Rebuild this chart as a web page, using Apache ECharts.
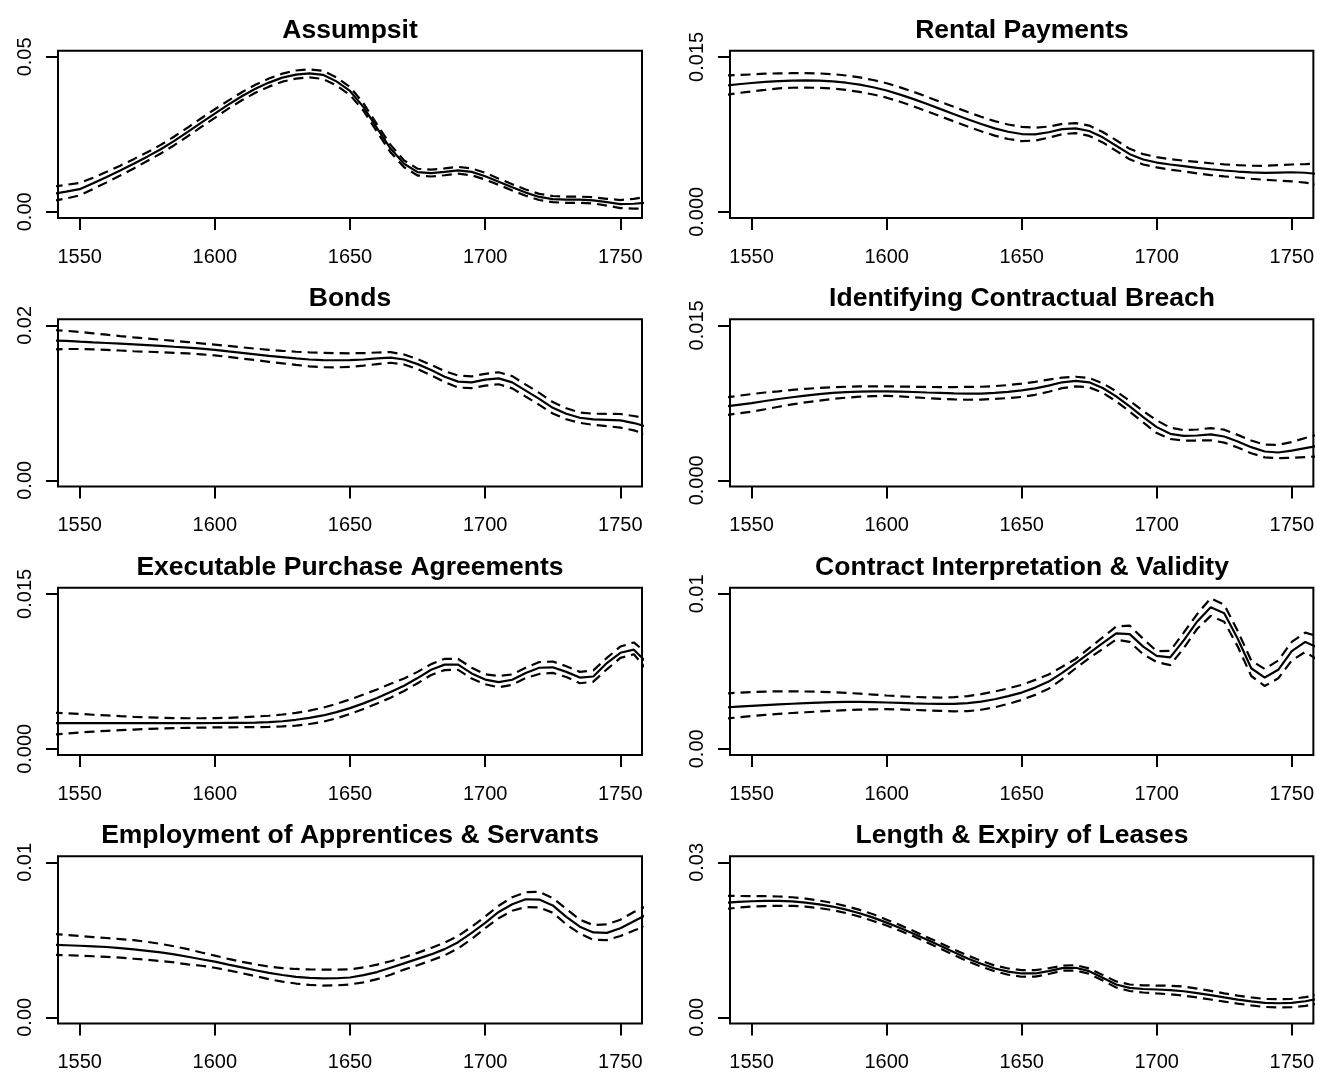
<!DOCTYPE html>
<html>
<head>
<meta charset="utf-8">
<script src="https://cdn.jsdelivr.net/npm/echarts@6/dist/echarts.min.js"></script>
<style>
html,body{margin:0;padding:0;background:#fff;}
#chart{width:1317px;height:1074px;}
</style>
</head>
<body>
<div id="chart"></div>
<script>
// ---------- DATA ----------
const years = [1540,1545,1550,1555,1560,1565,1570,1575,1580,1585,1590,1595,1600,1605,1610,1615,1620,1625,1630,1635,1640,1645,1650,1655,1660,1665,1670,1675,1680,1685,1690,1695,1700,1705,1710,1715,1720,1725,1730,1735,1740,1745,1750,1755,1760];
const xTicks = [1550,1600,1650,1700,1750];

const titles = ['Assumpsit','Rental Payments','Bonds','Identifying Contractual Breach','Executable Purchase Agreements','Contract Interpretation & Validity','Employment of Apprentices & Servants','Length & Expiry of Leases'];
const yTickLabels = [['0.00','0.05'],['0.000','0.015'],['0.00','0.02'],['0.000','0.015'],['0.000','0.015'],['0.00','0.01'],['0.00','0.01'],['0.00','0.03']];

const assumpsitMean  = [.0058,.0065,.0073,.0092,.0112,.0133,.0155,.0178,.0202,.0229,.0258,.0288,.0317,.0346,.0373,.0397,.0417,.0433,.0443,.0447,.0442,.0421,.0390,.0338,.0270,.0204,.0155,.0128,.0125,.0129,.0134,.0129,.0115,.0097,.0079,.0062,.0048,.0041,.0039,.0039,.0037,.0031,.0025,.0026,.0030];
const assumpsitUpper = [.0081,.0087,.0093,.0110,.0129,.0149,.0170,.0192,.0216,.0243,.0272,.0302,.0331,.0359,.0386,.0410,.0430,.0446,.0456,.0460,.0455,.0434,.0403,.0350,.0282,.0216,.0166,.0139,.0136,.0140,.0145,.0140,.0126,.0107,.0089,.0072,.0058,.0051,.0049,.0049,.0047,.0042,.0038,.0042,.0049];
const assumpsitLower = [.0035,.0043,.0053,.0074,.0095,.0117,.0140,.0164,.0188,.0215,.0244,.0274,.0303,.0333,.0360,.0384,.0404,.0420,.0430,.0434,.0429,.0408,.0377,.0326,.0258,.0192,.0144,.0117,.0114,.0118,.0123,.0118,.0104,.0087,.0069,.0052,.0038,.0031,.0029,.0029,.0027,.0020,.0012,.0010,.0011];

const rentalMean  = [.01220,.01235,.01247,.01258,.01266,.01271,.01273,.01270,.01263,.01250,.01231,.01206,.01175,.01135,.01091,.01043,.00994,.00945,.00896,.00850,.00808,.00775,.00753,.00750,.00770,.00800,.00808,.00782,.00721,.00640,.00558,.00506,.00477,.00458,.00442,.00426,.00412,.00400,.00390,.00382,.00377,.00380,.00383,.00378,.00365];
const rentalUpper = [.01320,.01325,.01330,.01338,.01340,.01342,.01343,.01340,.01333,.01320,.01301,.01276,.01245,.01205,.01161,.01113,.01064,.01015,.00966,.00920,.00878,.00845,.00823,.00815,.00825,.00852,.00858,.00835,.00773,.00693,.00610,.00558,.00530,.00510,.00495,.00483,.00470,.00460,.00452,.00446,.00445,.00452,.00458,.00462,.00470];
const rentalLower = [.01130,.01150,.01165,.01180,.01196,.01201,.01203,.01200,.01193,.01180,.01161,.01136,.01105,.01065,.01021,.00973,.00924,.00875,.00826,.00780,.00738,.00705,.00685,.00690,.00718,.00752,.00762,.00735,.00672,.00590,.00508,.00458,.00430,.00408,.00392,.00372,.00356,.00343,.00332,.00320,.00310,.00302,.00295,.00282,.00262];

const bondsMean  = [.01805,.01800,.01790,.01781,.01773,.01765,.01756,.01746,.01735,.01724,.01714,.01699,.01684,.01664,.01645,.01626,.01607,.01590,.01573,.01560,.01551,.01550,.01551,.01560,.01573,.01585,.01560,.01500,.01423,.01338,.01274,.01265,.01299,.01316,.01265,.01158,.01051,.00936,.00859,.00808,.00786,.00780,.00774,.00739,.00690];
const bondsUpper = [.01940,.01930,.01915,.01898,.01880,.01862,.01845,.01830,.01815,.01800,.01785,.01768,.01752,.01735,.01717,.01700,.01685,.01672,.01660,.01652,.01645,.01641,.01640,.01642,.01650,.01655,.01625,.01565,.01490,.01410,.01352,.01342,.01375,.01395,.01345,.01236,.01128,.01010,.00930,.00875,.00860,.00858,.00856,.00830,.00795];
const bondsLower = [.01690,.01695,.01695,.01690,.01684,.01676,.01666,.01660,.01654,.01646,.01638,.01627,.01612,.01593,.01572,.01552,.01530,.01510,.01490,.01472,.01460,.01458,.01464,.01480,.01500,.01518,.01495,.01436,.01356,.01268,.01197,.01190,.01222,.01240,.01187,.01080,.00974,.00862,.00788,.00742,.00715,.00700,.00680,.00645,.00590];

const breachMean  = [.00714,.00731,.00748,.00768,.00787,.00804,.00820,.00834,.00846,.00853,.00859,.00861,.00862,.00859,.00855,.00850,.00846,.00842,.00839,.00840,.00846,.00856,.00871,.00890,.00917,.00949,.00962,.00949,.00894,.00813,.00716,.00612,.00515,.00450,.00431,.00434,.00444,.00424,.00376,.00321,.00279,.00269,.00288,.00312,.00335];
const breachUpper = [.00800,.00818,.00835,.00850,.00862,.00875,.00886,.00895,.00902,.00906,.00909,.00910,.00910,.00908,.00906,.00904,.00903,.00903,.00904,.00906,.00912,.00922,.00936,.00953,.00975,.00995,.01003,.00990,.00940,.00862,.00770,.00670,.00580,.00510,.00485,.00492,.00505,.00490,.00440,.00385,.00345,.00343,.00370,.00410,.00445];
const breachLower = [.00628,.00648,.00665,.00688,.00712,.00735,.00755,.00772,.00788,.00800,.00810,.00815,.00818,.00812,.00804,.00796,.00789,.00783,.00780,.00782,.00789,.00796,.00807,.00828,.00857,.00892,.00910,.00900,.00848,.00765,.00665,.00560,.00457,.00400,.00385,.00385,.00388,.00365,.00318,.00262,.00222,.00214,.00218,.00225,.00232];

const purchaseMean  = [.00249,.00249,.00249,.00249,.00249,.00249,.00249,.00249,.00249,.00249,.00249,.00249,.00250,.00251,.00252,.00254,.00258,.00267,.00281,.00299,.00323,.00355,.00394,.00440,.00491,.00550,.00611,.00685,.00766,.00815,.00815,.00730,.00670,.00645,.00669,.00734,.00785,.00789,.00745,.00690,.00700,.00830,.00930,.00960,.00830];
const purchaseUpper = [.00350,.00345,.00338,.00330,.00323,.00316,.00310,.00305,.00301,.00298,.00296,.00296,.00297,.00300,.00305,.00312,.00320,.00332,.00348,.00370,.00398,.00435,.00478,.00525,.00575,.00630,.00680,.00745,.00820,.00872,.00870,.00785,.00722,.00705,.00720,.00785,.00840,.00845,.00800,.00745,.00760,.00880,.00990,.01030,.00920];
const purchaseLower = [.00138,.00148,.00158,.00166,.00174,.00180,.00186,.00192,.00197,.00200,.00203,.00205,.00207,.00208,.00209,.00210,.00212,.00217,.00225,.00240,.00262,.00295,.00338,.00385,.00438,.00495,.00560,.00635,.00715,.00762,.00765,.00680,.00625,.00595,.00620,.00685,.00725,.00735,.00695,.00635,.00650,.00770,.00880,.00915,.00760];

const interpMean  = [.00267,.00272,.00277,.00282,.00287,.00291,.00295,.00298,.00301,.00303,.00303,.00301,.00299,.00296,.00293,.00291,.00290,.00290,.00295,.00305,.00320,.00340,.00363,.00395,.00434,.00490,.00553,.00617,.00682,.00745,.00740,.00660,.00600,.00590,.00700,.00822,.00914,.00875,.00710,.00520,.00460,.00510,.00630,.00690,.00650];
const interpUpper = [.00357,.00362,.00366,.00369,.00371,.00371,.00370,.00368,.00365,.00361,.00356,.00350,.00344,.00339,.00335,.00332,.00331,.00333,.00340,.00353,.00370,.00390,.00413,.00445,.00480,.00530,.00580,.00650,.00720,.00790,.00795,.00710,.00630,.00632,.00750,.00870,.00972,.00930,.00760,.00570,.00515,.00570,.00690,.00750,.00725];
const interpLower = [.00194,.00203,.00212,.00219,.00226,.00231,.00236,.00241,.00246,.00250,.00253,.00255,.00256,.00254,.00251,.00248,.00245,.00242,.00243,.00252,.00268,.00290,.00316,.00348,.00388,.00450,.00520,.00585,.00645,.00705,.00690,.00610,.00560,.00540,.00650,.00775,.00858,.00820,.00660,.00470,.00405,.00455,.00570,.00625,.00570];

const apprenticeMean  = [.00468,.00465,.00462,.00458,.00454,.00447,.00438,.00429,.00419,.00406,.00391,.00375,.00359,.00340,.00322,.00304,.00287,.00273,.00261,.00254,.00251,.00252,.00257,.00272,.00292,.00320,.00348,.00377,.00406,.00440,.00485,.00545,.00610,.00680,.00730,.00762,.00760,.00722,.00648,.00585,.00548,.00545,.00575,.00620,.00665];
const apprenticeUpper = [.00538,.00532,.00525,.00518,.00512,.00505,.00498,.00487,.00474,.00458,.00440,.00418,.00398,.00377,.00358,.00342,.00328,.00318,.00312,.00309,.00308,.00308,.00310,.00322,.00340,.00362,.00388,.00416,.00448,.00482,.00525,.00585,.00650,.00720,.00775,.00808,.00810,.00770,.00700,.00630,.00595,.00600,.00630,.00680,.00720];
const apprenticeLower = [.00404,.00401,.00398,.00394,.00390,.00385,.00378,.00371,.00363,.00354,.00342,.00333,.00320,.00303,.00285,.00266,.00246,.00230,.00218,.00209,.00205,.00206,.00212,.00226,.00246,.00275,.00308,.00336,.00367,.00400,.00445,.00505,.00575,.00640,.00688,.00712,.00710,.00675,.00600,.00540,.00500,.00498,.00525,.00560,.00592];

const leasesMean  = [.02215,.02235,.02248,.02254,.02255,.02245,.02222,.02188,.02145,.02085,.02015,.01930,.01834,.01730,.01620,.01500,.01380,.01258,.01140,.01038,.00946,.00885,.00849,.00849,.00894,.00952,.00959,.00894,.00765,.00635,.00570,.00548,.00538,.00525,.00505,.00468,.00428,.00385,.00343,.00308,.00279,.00272,.00279,.00311,.00360];
const leasesUpper = [.02350,.02350,.02348,.02345,.02340,.02325,.02300,.02262,.02215,.02152,.02080,.01995,.01890,.01785,.01672,.01552,.01432,.01310,.01195,.01095,.01003,.00945,.00915,.00912,.00950,.01000,.01010,.00945,.00820,.00695,.00635,.00620,.00615,.00610,.00595,.00555,.00512,.00465,.00420,.00385,.00355,.00350,.00358,.00390,.00440];
const leasesLower = [.02095,.02125,.02145,.02155,.02160,.02158,.02145,.02115,.02076,.02018,.01950,.01865,.01778,.01675,.01568,.01448,.01328,.01205,.01085,.00982,.00890,.00825,.00785,.00788,.00838,.00902,.00905,.00842,.00712,.00578,.00510,.00480,.00462,.00445,.00420,.00385,.00345,.00305,.00265,.00230,.00200,.00192,.00195,.00222,.00265];

const meanSeries  = [assumpsitMean, rentalMean, bondsMean, breachMean, purchaseMean, interpMean, apprenticeMean, leasesMean];
const upperSeries = [assumpsitUpper, rentalUpper, bondsUpper, breachUpper, purchaseUpper, interpUpper, apprenticeUpper, leasesUpper];
const lowerSeries = [assumpsitLower, rentalLower, bondsLower, breachLower, purchaseLower, interpLower, apprenticeLower, leasesLower];

// ---------- LAYOUT ----------
const colLeft = [58, 730];
const boxW = 584;
const rowTop0 = 50.7, rowStep = 268.5, boxH = 167.3;
const FONT = '"Liberation Sans", Arial, Helvetica, sans-serif';

const chart = echarts.init(document.getElementById('chart'), null, {renderer: 'canvas'});
const grids = [], xAxes = [], yAxes = [], series = [], titleOpts = [];

for (let i = 0; i < 8; i++) {
  const col = i % 2, row = Math.floor(i / 2);
  const left = colLeft[col], top = rowTop0 + row * rowStep;
  grids.push({left: left, top: top, width: boxW, height: boxH, show: true,
    borderColor: '#000', borderWidth: 2, backgroundColor: 'transparent', containLabel: false});
  const ticks = yTickLabels[i].map(Number);
  const M = ticks[1];
  const labels = yTickLabels[i];
  xAxes.push({type: 'value', gridIndex: i, min: 1542, max: 1758, position: 'bottom',
    axisLine: {show: false, onZero: false},
    splitLine: {show: false},
    axisTick: {show: true, inside: false, length: 12, lineStyle: {color: '#000', width: 2}, customValues: xTicks},
    axisLabel: {show: true, color: '#000', fontSize: 20, fontFamily: FONT, margin: 29, customValues: xTicks,
      formatter: v => String(Math.round(v))}
  });
  yAxes.push({type: 'value', gridIndex: i, min: -0.04 * M, max: 1.04 * M, position: 'left',
    axisLine: {show: false, onZero: false},
    splitLine: {show: false},
    axisTick: {show: true, inside: false, length: 12, lineStyle: {color: '#000', width: 2}, customValues: ticks},
    axisLabel: {show: true, color: '#000', fontSize: 20, fontFamily: FONT, margin: 23, rotate: 90, customValues: ticks,
      formatter: v => (Math.abs(v) < M / 2 ? labels[0] : labels[1])}
  });
  const mk = (arr, dashed) => ({
    type: 'line', xAxisIndex: i, yAxisIndex: i,
    data: years.map((y, k) => [y, arr[k]]),
    showSymbol: false, symbol: 'none', smooth: false, clip: true,
    lineStyle: {color: '#000', width: 2.2, type: dashed ? [10, 6] : 'solid'},
    animation: false, silent: true
  });
  series.push(mk(upperSeries[i], true), mk(lowerSeries[i], true), mk(meanSeries[i], false));
  titleOpts.push({text: titles[i], left: left + boxW / 2 - 5, top: top - 39, textAlign: 'center',
    textStyle: {fontFamily: FONT, fontWeight: 'bold', fontSize: 26.5, color: '#000'}});
}

chart.setOption({
  animation: false,
  backgroundColor: '#fff',
  title: titleOpts,
  grid: grids, xAxis: xAxes, yAxis: yAxes, series: series
});
</script>
</body>
</html>
